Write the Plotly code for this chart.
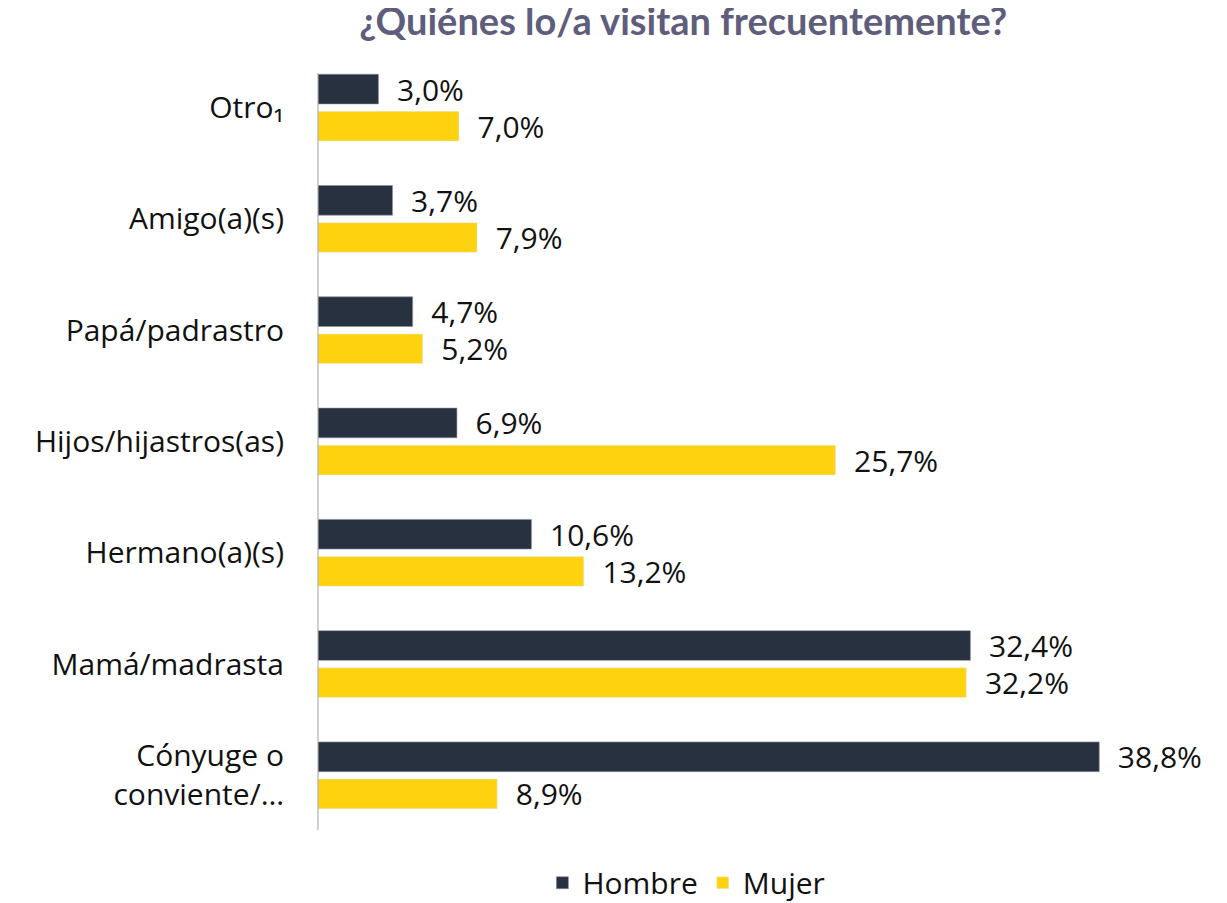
import plotly.graph_objects as go

categories = ["Otro₁", "Amigo(a)(s)", "Papá/padrastro", "Hijos/hijastros(as)",
              "Hermano(a)(s)", "Mamá/madrasta", "Cónyuge o<br>conviente/…"]
hombre = [3.0, 3.7, 4.7, 6.9, 10.6, 32.4, 38.8]
mujer = [7.0, 7.9, 5.2, 25.7, 13.2, 32.2, 8.9]

def fmt(v):
    return "\u00a0\u00a0" + f"{v:.1f}".replace(".", ",") + "%"

FONT = "'Open Sans', Lato, sans-serif"
TFONT = "Lato, 'Open Sans', sans-serif"
FS = 30

fig = go.Figure()
fig.add_trace(go.Bar(y=categories, x=hombre, name="Hombre", orientation="h",
                     marker=dict(color="#283140", line=dict(color="#8A8F99", width=0.6)),
                     text=[fmt(v) for v in hombre], textposition="outside",
                     constraintext="none",
                     textfont=dict(size=FS, color="#111111", family=FONT),
                     cliponaxis=False))
fig.add_trace(go.Bar(y=categories, x=mujer, name="Mujer", orientation="h",
                     marker=dict(color="#FED20E"),
                     text=[fmt(v) for v in mujer], textposition="outside",
                     constraintext="none",
                     textfont=dict(size=FS, color="#111111", family=FONT),
                     cliponaxis=False))

fig.update_layout(
    width=1219, height=895,
    paper_bgcolor="white", plot_bgcolor="white",
    barmode="group", bargap=0.333, bargroupgap=0.2,
    margin=dict(l=310, r=17, t=44, b=72, autoexpand=False),
    title=dict(text="<b>¿Quiénes lo/a visitan frecuentemente?</b>",
               font=dict(size=38, color="#5F5D7C", family=TFONT),
               x=0.554, xanchor="center", y=1.0, yanchor="top"),
    font=dict(family=FONT, size=FS, color="#111111"),
    legend=dict(orientation="h", x=0.413, xanchor="center", y=-0.033, yanchor="top",
                font=dict(size=FS, color="#111111", family=FONT),
                itemwidth=30, traceorder="normal"),
    xaxis=dict(range=[0, 44.3], visible=False, showgrid=False, zeroline=False,
               automargin=False),
    yaxis=dict(autorange="reversed", showline=False,
               ticks="", showgrid=False, ticklabelstandoff=33, automargin=False,
               tickfont=dict(size=FS, color="#111111", family=FONT)),
    shapes=[dict(type="line", xref="paper", yref="paper", x0=0, x1=0,
                 y0=0.001, y1=0.973, line=dict(color="#A0A0A0", width=1))],
    showlegend=True,
)

fig.write_html("out.html")
